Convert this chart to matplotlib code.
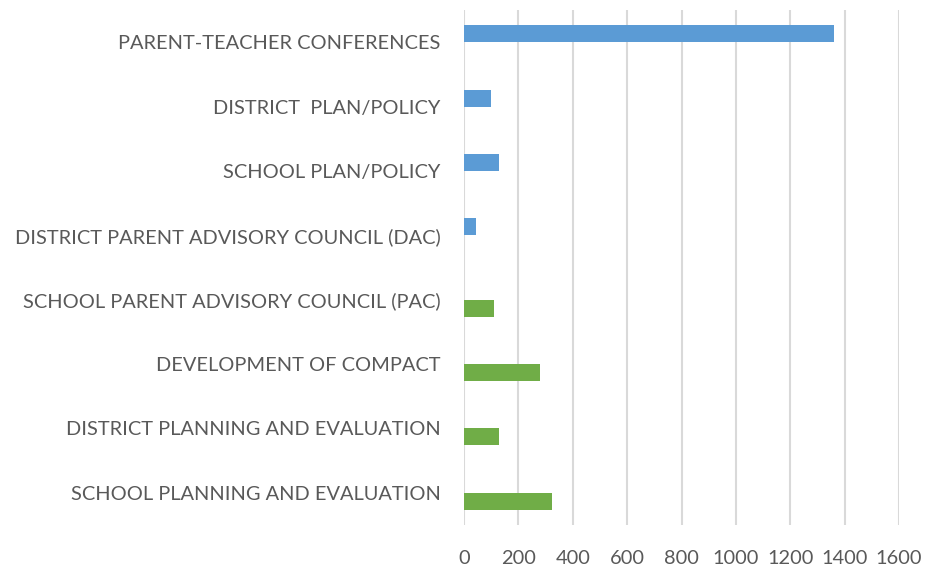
import matplotlib.pyplot as plt
import numpy as np

categories = ['PARENT-TEACHER CONFERENCES', 'DISTRICT  PLAN/POLICY', 'SCHOOL PLAN/POLICY',
              'DISTRICT PARENT ADVISORY COUNCIL (DAC)', 'SCHOOL PARENT ADVISORY COUNCIL (PAC)',
              'DEVELOPMENT OF COMPACT', 'DISTRICT PLANNING AND EVALUATION',
              'SCHOOL PLANNING AND EVALUATION']
blue_vals = [1360, 100, 130, 44, 0, 0, 0, 0]
green_vals = [0, 0, 0, 0, 110, 280, 130, 325]
xticks = [0, 200, 400, 600, 800, 1000, 1200, 1400, 1600]

plt.rcParams['font.family'] = ['Lato', 'DejaVu Sans']
txt = '#595959'
grid = '#D9D9D9'

fig = plt.figure(figsize=(9.25, 5.69), dpi=100)
ax = fig.add_axes([464 / 925, 1 - 525 / 569, 435 / 925, 515 / 569])

y = np.arange(len(categories))
h = 0.264
ax.barh(y - h / 2, blue_vals, height=h, color='#5B9BD5', linewidth=0, zorder=3)
ax.barh(y + h / 2, green_vals, height=h, color='#70AD47', linewidth=0, zorder=3)

ax.set_xlim(0, 1600)
ax.set_ylim(len(categories) - 0.5, -0.5)
ax.set_xticks(xticks)
ax.set_yticks(y)
ax.set_yticklabels(categories)
ax.grid(axis='x', color=grid, linewidth=1.5, zorder=0)
for s in ax.spines.values():
    s.set_visible(False)
ax.tick_params(axis='both', length=0, colors=txt, labelsize=14.4)
ax.tick_params(axis='y', pad=17)
ax.tick_params(axis='x', pad=18)

fig.savefig('out.png', dpi=100)
